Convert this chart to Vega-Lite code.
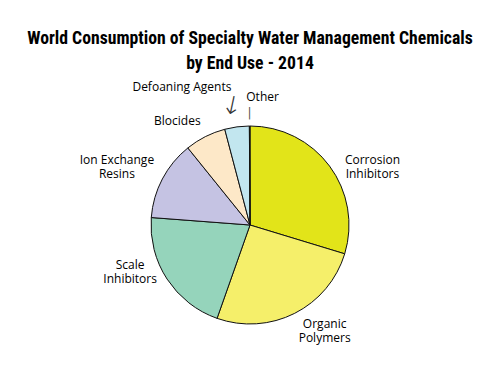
{
  "$schema": "https://vega.github.io/schema/vega-lite/v6.json",
  "width": 500,
  "height": 286,
  "autosize": "none",
  "padding": {"top": 82, "left": 0, "right": 0, "bottom": 0},
  "background": "white",
  "view": {"stroke": null},
  "title": {
    "text": ["World Consumption of Specialty Water Management Chemicals", "by End Use - 2014"],
    "font": "Roboto Condensed, DejaVu Sans Condensed, Lato",
    "fontWeight": "bold",
    "fontSize": 17.7,
    "lineHeight": 25,
    "color": "black",
    "anchor": "middle",
    "offset": 10,
    "dy": 25
  },
  "data": {
    "values": [
      {"label": "Corrosion Inhibitors", "idx": 1, "value": 29.7},
      {"label": "Organic Polymers", "idx": 2, "value": 25.7},
      {"label": "Scale Inhibitors", "idx": 3, "value": 20.8},
      {"label": "Ion Exchange Resins", "idx": 4, "value": 13.0},
      {"label": "Blocides", "idx": 5, "value": 6.7},
      {"label": "Defoaning Agents", "idx": 6, "value": 4.0},
      {"label": "Other", "idx": 7, "value": 0.1}
    ]
  },
  "encoding": {
    "theta": {"field": "value", "type": "quantitative", "stack": true},
    "order": {"field": "idx", "type": "quantitative"}
  },
  "layer": [
    {
      "mark": {"type": "arc", "outerRadius": 99, "stroke": "#111111", "strokeWidth": 1},
      "encoding": {
        "color": {
          "field": "label", "type": "nominal", "legend": null,
          "scale": {
            "domain": ["Corrosion Inhibitors", "Organic Polymers", "Scale Inhibitors", "Ion Exchange Resins", "Blocides", "Defoaning Agents", "Other"],
            "range": ["#e2e419", "#f5ef6a", "#95d4bb", "#c5c3e3", "#fde8c8", "#c2e6ef", "#e2e419"]
          }
        }
      }
    },
    {
      "mark": {"type": "text", "radius": 130, "font": "Open Sans", "fontSize": 12, "lineHeight": 14, "lineBreak": "|", "align": "center", "baseline": "middle", "dx": 18, "dy": 12, "color": "black"},
      "encoding": {"text": {"condition": {"test": "datum.label == 'Corrosion Inhibitors'", "value": "Corrosion|Inhibitors"}, "value": ""}}
    },
    {
      "mark": {"type": "text", "radius": 130, "font": "Open Sans", "fontSize": 12, "lineHeight": 14, "lineBreak": "|", "align": "center", "baseline": "middle", "dx": 16, "dy": -17, "color": "black"},
      "encoding": {"text": {"condition": {"test": "datum.label == 'Organic Polymers'", "value": "Organic|Polymers"}, "value": ""}}
    },
    {
      "mark": {"type": "text", "radius": 130, "font": "Open Sans", "fontSize": 12, "lineHeight": 14, "lineBreak": "|", "align": "center", "baseline": "middle", "dx": -11, "dy": -31, "color": "black"},
      "encoding": {"text": {"condition": {"test": "datum.label == 'Scale Inhibitors'", "value": "Scale|Inhibitors"}, "value": ""}}
    },
    {
      "mark": {"type": "text", "radius": 130, "font": "Open Sans", "fontSize": 12, "lineHeight": 14, "lineBreak": "|", "align": "center", "baseline": "middle", "dx": -18, "dy": -5, "color": "black"},
      "encoding": {"text": {"condition": {"test": "datum.label == 'Ion Exchange Resins'", "value": "Ion Exchange|Resins"}, "value": ""}}
    },
    {
      "mark": {"type": "text", "radius": 130, "font": "Open Sans", "fontSize": 12, "align": "center", "baseline": "middle", "dx": -14, "dy": 12, "color": "black"},
      "encoding": {"text": {"condition": {"test": "datum.label == 'Blocides'", "field": "label"}, "value": ""}}
    },
    {
      "mark": {"type": "text", "radius": 130, "font": "Open Sans", "fontSize": 12, "align": "center", "baseline": "middle", "dx": -51, "dy": -9, "color": "black"},
      "encoding": {"text": {"condition": {"test": "datum.label == 'Defoaning Agents'", "field": "label"}, "value": ""}}
    },
    {
      "mark": {"type": "text", "radius": 130, "font": "Open Sans", "fontSize": 12, "align": "center", "baseline": "middle", "dx": 13, "dy": 2, "color": "black"},
      "encoding": {"text": {"condition": {"test": "datum.label == 'Other'", "field": "label"}, "value": ""}}
    },
    {
      "mark": {"type": "text", "radius": 130, "font": "DejaVu Sans", "fontSize": 25, "fontWeight": 200, "align": "center", "baseline": "middle", "dx": 1, "dy": 10, "angle": 12, "color": "#333333"},
      "encoding": {"text": {"condition": {"test": "datum.label == 'Defoaning Agents'", "value": "↓"}, "value": ""}}
    },
    {
      "mark": {"type": "text", "radius": 130, "font": "DejaVu Sans", "fontSize": 12, "align": "center", "baseline": "middle", "dx": 0, "dy": 18, "color": "#555555"},
      "encoding": {"text": {"condition": {"test": "datum.label == 'Other'", "value": "|"}, "value": ""}}
    }
  ]
}
